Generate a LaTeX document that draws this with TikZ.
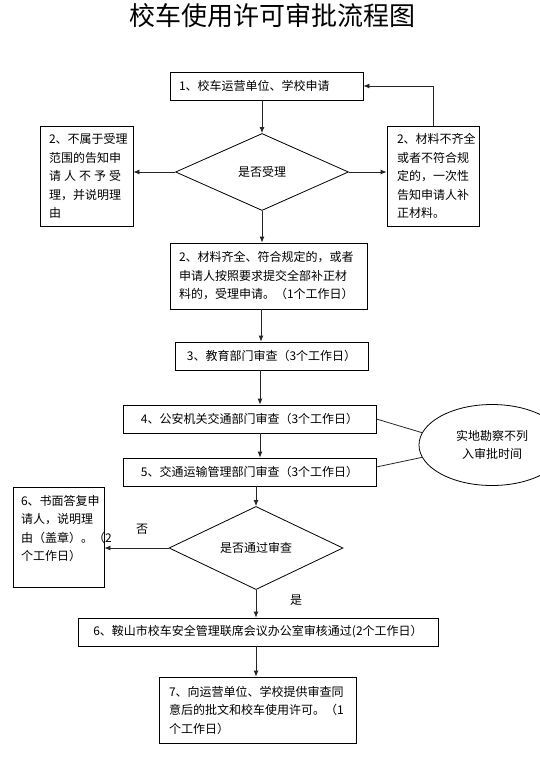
\documentclass[tikz,border=0pt]{standalone}
\usepackage{fontspec}
\setmainfont{Noto Sans CJK SC}
\usetikzlibrary{shapes.geometric,arrows.meta}
\tikzset{
  base/.style={font=\fontsize{12}{18.5}\selectfont, text=black},
  box/.style={base, draw=black, line width=0.8pt, align=left, inner ysep=0pt, minimum height=#1},
  cbox/.style={base, draw=black, line width=0.8pt, align=center, inner sep=0pt, minimum height=28},
  decision/.style={base, draw=black, line width=0.8pt, diamond, inner sep=0pt},
  conn/.style={draw=black!85, line width=0.8pt, -{Latex[length=6pt,width=5pt]}},
  plain/.style={draw=black!85, line width=0.8pt},
}
\begin{document}
\begin{tikzpicture}[x=1pt,y=-1pt]
\useasboundingbox (0,0) rectangle (539,763);
\node[font=\fontsize{26}{28}\selectfont] (title) at (272,16) {校车使用许可审批流程图};

\node[box=28, text width=175, inner xsep=9, minimum width=193] (b1) at (266.5,86) {1、校车运营单位、学校申请};
\node[decision, minimum width=173, minimum height=77] (d1) at (262,172) {是否受理};
\node[box=100, text width=75, inner xsep=9, minimum width=93] (L) at (86.5,176)
  {2、不属于受理\\范围的告知申\\\makebox[72pt][s]{请\hfil 人\hfil 不\hfil 予\hfil 受}\\理，并说明理\\由};
\node[box=100, text width=72, inner xsep=10, minimum width=92] (R) at (433,176)
  {2、材料不齐全\\或者不符合规\\定的，一次性\\告知申请人补\\正材料。};
\node[box=66, text width=179, inner xsep=9, minimum width=197] (b2) at (268.5,276)
  {2、材料齐全、符合规定的，或者\\申请人按照要求提交全部补正材\\料的，受理申请。（1个工作日）};
\node[cbox, minimum width=193] (b3) at (271.5,356) {3、教育部门审查（3个工作日）};
\node[cbox, minimum width=253] (b4) at (249.5,419) {4、公安机关交通部门审查（3个工作日）};
\node[cbox, minimum width=253] (b5) at (249.5,472) {5、交通运输管理部门审查（3个工作日）};
\node[base, draw=black, line width=0.8pt, ellipse, minimum width=146, minimum height=81, inner sep=0pt, align=center] (E) at (492,445)
  {实地勘察不列\\入审批时间};
\node[decision, minimum width=174, minimum height=78] (d2) at (256,548) {是否通过审查};
\node[box=100, text width=75, inner xsep=8, minimum width=91] (b6) at (58.5,537)
  {6、书面答复申\\请人，说明理\\由（盖章）。（2\\个工作日）\\\mbox{}};
\node[cbox, minimum width=360] (b7) at (258,632) {6、鞍山市校车安全管理联席会议办公室审核通过(2个工作日）};
\node[box=66, text width=177, inner xsep=10, minimum width=197] (b8) at (257.5,710)
  {7、向运营单位、学校提供审查同\\意后的批文和校车使用许可。（1\\个工作日）};
\node[base] (no) at (142,529) {否};
\node[base] (yes) at (296,600) {是};

\draw[conn] (d1.north |- b1.south) -- (d1.north);
\draw[conn] (d1.west) -- (d1.west -| L.east);
\draw[conn] (d1.east) -- (d1.east -| R.west);
\draw[conn] (R.north) |- (b1.east);
\draw[conn] (d1.south) -- (d1.south |- b2.north);
\draw[conn] ([xshift=-1pt]d1.south |- b2.south) -- ([xshift=-1pt]d1.south |- b3.north);
\draw[conn] ([xshift=-2pt]d1.south |- b3.south) -- ([xshift=-2pt]d1.south |- b4.north);
\draw[conn] ([xshift=-2pt]d1.south |- b4.south) -- ([xshift=-2pt]d1.south |- b5.north);
\draw[plain] (b4.east) -- (E.170);
\draw[plain] ([yshift=5pt]b5.east) -- (E.190);
\draw[conn] (d2.north |- b5.south) -- (d2.north);
\draw[conn] (d2.west) -- (d2.west -| b6.east);
\draw[conn] (d2.south) -- (d2.south |- b7.north);
\draw[conn] (d2.south |- b7.south) -- (d2.south |- b8.north);
\end{tikzpicture}
\end{document}
